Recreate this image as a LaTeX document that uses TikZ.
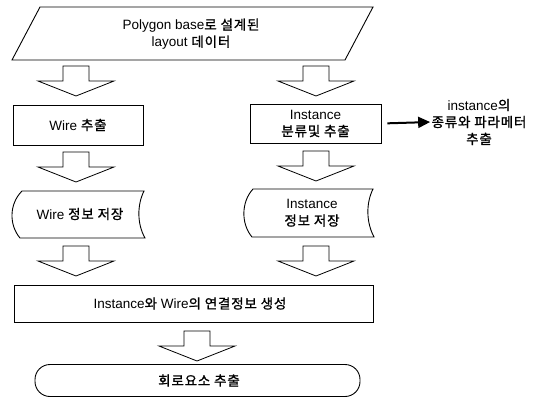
\documentclass[tikz,border=0pt]{standalone}
\usepackage{fontspec}
\setmainfont{Liberation Sans}
\newfontfamily\kr[LetterSpace=6,FakeBold=1.2]{Noto Sans CJK KR}
\usetikzlibrary{arrows.meta,calc}
\begin{document}
\begin{tikzpicture}[x=1pt,y=-1pt,line width=0.9pt,
  font=\fontsize{13.5}{17}\selectfont,
  box/.style={draw,rectangle,inner sep=0pt,align=center},
  txt/.style={align=center,inner sep=0pt},
  bigarrow/.pic={\draw[line width=0.8pt] (-13,0) -- (-13,15) -- (-38,15) -- (0,30) -- (38,15) -- (13,15) -- (13,0) -- cycle;}]
\useasboundingbox (0,0) rectangle (534,399);

% input data (parallelogram)
\node[txt] (input) at (191,34) {Polygon base{\kr 로 설계된}\\layout {\kr 데이터}};
\draw (40,7) -- (373,7) -- (345,60) -- (12,60) -- cycle;

% row 2
\node[box,minimum width=130pt,minimum height=40pt] (wire) at (78,125) {Wire {\kr 추출}};
\node[box,minimum width=131pt,minimum height=39pt] (inst) at (315.5,123.5) {Instance\\{\kr 분류및 추출}};
\node[txt] (side) at (479,122) {instance{\kr 의}\\{\kr 종류와 파라메터}\\{\kr 추출}};
\draw[line width=2pt,-{Triangle[length=12pt,width=11pt]},shorten <=6pt,shorten >=1pt] (inst.east) -- (side.west);

% row 3 (stored data)
\node[txt] (wstore) at (80,214) {Wire {\kr 정보 저장}};
\draw (22,191) -- (144,191) .. controls (137,205) and (137,224) .. (145,238)
      -- (20,238) .. controls (9,225) and (9,204) .. (22,191) -- cycle;
\node[txt] (istore) at (312,213) {Instance\\{\kr 정보 저장}};
\draw (253,189) -- (373,189) .. controls (366,203) and (366,222) .. (374,237)
      -- (252,237) .. controls (241,224) and (241,202) .. (253,189) -- cycle;

% row 4
\node[box,minimum width=359pt,minimum height=37pt] (conn) at (193.5,303.5) {};
\node[txt] (conntext) at (190,303.5) {Instance{\kr 와} Wire{\kr 의 연결정보 생성}};

% terminal
\node[draw,rounded corners=15pt,minimum width=325pt,minimum height=32pt,inner sep=0pt] (out) at (197.5,380.5) {};
\node[txt] (outtext) at (199,380.5) {\kr 회로요소 추출};

% block arrows
\pic at (76,66) {bigarrow};
\pic at (316,66) {bigarrow};
\pic at (76,152) {bigarrow};
\pic at (316,151) {bigarrow};
\pic at (76,246) {bigarrow};
\pic at (316,246) {bigarrow};
\pic at (197,331) {bigarrow};
\end{tikzpicture}
\end{document}
